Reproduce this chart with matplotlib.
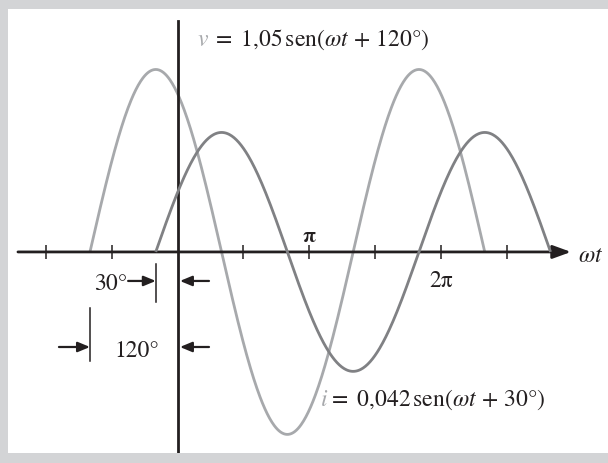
import numpy as np
import matplotlib
matplotlib.use("Agg")
import matplotlib.pyplot as plt

# v = 1,05 sen(wt + 120°), i = 0,042 sen(wt + 30°)
V_AMP = 1.05
V_PHASE = 120.0
I_AMP = 0.042
I_PHASE = 30.0

# drawn span of each wave, in degrees of wt
V_SPAN = [-120.0, 420.0]
I_SPAN = [-30.0, 510.0]

TICKS_DEG = [-180, -90, 90, 180, 270, 360, 450]

BLACK = "#231f20"
V_COLOR = "#a7a9ac"
I_COLOR = "#808184"
FS = 17

plt.rcParams["font.family"] = ["STIXGeneral", "DejaVu Serif"]
plt.rcParams["mathtext.fontset"] = "stix"


def arrow(ax, tail, tip, lw=1.6, scale=12, head="head_length=0.6,head_width=0.25"):
    ax.annotate("", xy=tip, xytext=tail,
                arrowprops=dict(arrowstyle=f"-|>,{head}", mutation_scale=scale,
                                lw=lw, color=BLACK, shrinkA=0, shrinkB=0))


fig = plt.figure(figsize=(6.08, 4.64), dpi=100, facecolor="#d3d4d6")
ax = fig.add_axes([7.5 / 608, 10 / 464, 600.5 / 608, 444 / 464])
ax.set_facecolor("white")
for s in ax.spines.values():
    s.set_visible(False)
ax.set_xticks([])
ax.set_yticks([])
ax.set_xlim(-232.8, 588.6)
ax.set_ylim(-1.157, 1.398)

# current on its own vertical scale, sharing the wt axis
ax2 = ax.twinx()
ax2.set_ylim(-0.0707, 0.0854)
ax2.set_axis_off()

wt_v = np.linspace(V_SPAN[0], V_SPAN[1], 500)
wt_i = np.linspace(I_SPAN[0], I_SPAN[1], 500)
v = V_AMP * np.sin(np.radians(wt_v + V_PHASE))
i = I_AMP * np.sin(np.radians(wt_i + I_PHASE))

ax.plot(wt_v, v, color=V_COLOR, lw=2.0, solid_capstyle="butt", zorder=2)
ax2.plot(wt_i, i, color=I_COLOR, lw=2.0, solid_capstyle="butt", zorder=2)

# axes
ax.plot([0, 0], [1.33, -1.16], color=BLACK, lw=2.0, zorder=3)
arrow(ax, (-218.5, 0), (538, 0), lw=2.0, scale=20, head="head_length=0.55,head_width=0.2")
ax.plot(TICKS_DEG, np.zeros(len(TICKS_DEG)), ls="none", marker="|", ms=10,
        mew=1.1, color=BLACK, zorder=3)

ax.text(547, -0.052, r"$\omega t$", fontsize=FS, ha="left", va="baseline", color=BLACK)
ax.text(180, 0.063, "π", fontsize=FS - 2, ha="center", va="baseline",
        color=BLACK, fontweight="bold")
ax.text(360, -0.196, "2π", fontsize=FS, ha="center", va="baseline", color=BLACK)

# phase markers
ax.text(-69, -0.213, "30°", fontsize=FS, ha="right", va="baseline", color=BLACK)
arrow(ax, (-67.8, -0.167), (-I_PHASE, -0.167))
ax.plot([-I_PHASE, -I_PHASE], [-0.069, -0.288], color=BLACK, lw=1.1)
arrow(ax, (42.8, -0.167), (3.1, -0.167))

ax.text(-56, -0.598, "120°", fontsize=FS, ha="center", va="baseline", color=BLACK)
arrow(ax, (-162.4, -0.547), (-V_PHASE, -0.547))
ax.plot([-V_PHASE, -V_PHASE], [-0.322, -0.627], color=BLACK, lw=1.1)
arrow(ax, (42.8, -0.547), (3.1, -0.547))

# wave labels
ax.text(26.4, 1.191, r"$v$", fontsize=FS, ha="left", va="baseline", color=V_COLOR)
ax.text(47, 1.191, r"$=\ 1{,}05\,\mathrm{sen}(\omega t\,+\,120\degree)$", fontsize=FS,
        ha="left", va="baseline", color=BLACK)
ax.text(194.7, -0.880, r"$i$", fontsize=FS, ha="left", va="baseline", color=V_COLOR)
ax.text(205.5, -0.880, r"$=\ 0{,}042\,\mathrm{sen}(\omega t\,+\,30\degree)$", fontsize=FS,
        ha="left", va="baseline", color=BLACK)

fig.savefig("out.png", dpi=100, facecolor=fig.get_facecolor())
